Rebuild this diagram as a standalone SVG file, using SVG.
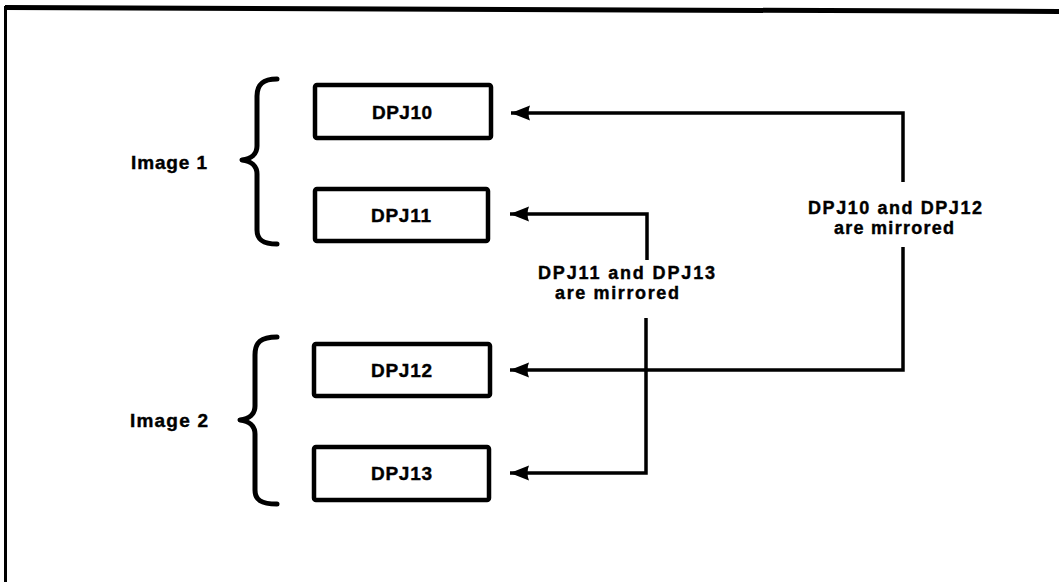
<svg xmlns="http://www.w3.org/2000/svg" width="1059" height="582" viewBox="0 0 1059 582">
<style>
.box{fill:#fff;stroke:#000;stroke-width:4.5}
.lbl{font-family:"Liberation Sans",Arial,sans-serif;font-weight:bold;font-size:19px;fill:#000;stroke:#000;stroke-width:0.4}
.note{font-size:18px}
.brace{fill:none;stroke:#000;stroke-width:5;stroke-linecap:round;stroke-linejoin:round}
.conn{fill:none;stroke:#000;stroke-width:3.5}
</style>
<defs>
<marker id="ah" markerUnits="userSpaceOnUse" markerWidth="22" markerHeight="18" refX="19" refY="9" orient="auto">
<path d="M0,1.5 L19,9 L0,16.5 Q3,9 0,1.5 Z" fill="#000"/>
</marker>
</defs>
<rect width="1059" height="582" fill="#fff"/>
<g id="frame">
<line x1="5" y1="7.5" x2="1059" y2="11.5" stroke="#000" stroke-width="5"/>
<line x1="5.5" y1="6" x2="5.5" y2="582" stroke="#000" stroke-width="3"/>
</g>
<g id="image1">
<path class="brace" d="M277,79 C263,79 257,84 257,96 L257,146 C257,154 251,159 242,160 C251,161 257,166 257,174 L257,230 C257,240 263,244 277,244"/>
<text class="lbl" x="131" y="169" textLength="76" lengthAdjust="spacing">Image 1</text>
</g>
<g id="image2">
<path class="brace" d="M277,337 C261,337 255,342 255,355 L255,406 C255,414 249,419 240,420 C249,421 255,426 255,434 L255,490 C255,500 261,504 277,504"/>
<text class="lbl" x="130" y="427" textLength="78" lengthAdjust="spacing">Image 2</text>
</g>
<g id="DPJ10">
<rect class="box" x="315" y="85" width="176" height="53" rx="2"/>
<text class="lbl" x="372" y="118.5" textLength="60" lengthAdjust="spacing">DPJ10</text>
</g>
<g id="DPJ11">
<rect class="box" x="315" y="189" width="173" height="52" rx="2"/>
<text class="lbl" x="371" y="222" textLength="60" lengthAdjust="spacing">DPJ11</text>
</g>
<g id="DPJ12">
<rect class="box" x="314" y="344" width="176" height="52" rx="2"/>
<text class="lbl" x="371" y="377" textLength="61" lengthAdjust="spacing">DPJ12</text>
</g>
<g id="DPJ13">
<rect class="box" x="314" y="447" width="175" height="53" rx="2"/>
<text class="lbl" x="371" y="480" textLength="61" lengthAdjust="spacing">DPJ13</text>
</g>
<g id="connectors">
<path class="conn" d="M903,182 V113 H511" marker-end="url(#ah)"/>
<path class="conn" d="M903,247 V370 H510" marker-end="url(#ah)"/>
<path class="conn" d="M647,260 V214 H510" marker-end="url(#ah)"/>
<path class="conn" d="M646,318 V473 H510" marker-end="url(#ah)"/>
</g>
<g id="labels">
<text class="lbl note" x="808" y="214" textLength="174" lengthAdjust="spacing">DPJ10 and DPJ12</text>
<text class="lbl note" x="834" y="234" textLength="120" lengthAdjust="spacing">are mirrored</text>
<text class="lbl note" x="538" y="279" textLength="177" lengthAdjust="spacing">DPJ11 and DPJ13</text>
<text class="lbl note" x="555" y="299" textLength="124" lengthAdjust="spacing">are mirrored</text>
</g>
</svg>
